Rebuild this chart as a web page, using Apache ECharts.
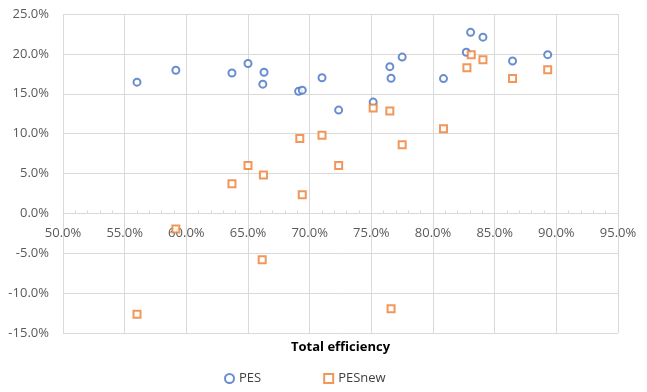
<!DOCTYPE html>
<html>
<head>
<meta charset="utf-8">
<script src="https://cdn.jsdelivr.net/npm/echarts@6/dist/echarts.min.js"></script>
<style>html,body{margin:0;padding:0;background:#fff}#c{width:647px;height:392px}</style>
</head>
<body>
<div id="c"></div>
<script>
// Total efficiency (%)
const efficiency = [56.0, 59.15, 63.7, 65.0, 66.2, 66.3, 69.1, 69.4, 71.0, 72.35, 75.15, 76.5, 76.6, 77.5, 80.85, 82.7, 83.05, 84.05, 86.45, 89.3];
const efficiencyNew = [56.0, 59.15, 63.7, 65.0, 66.15, 66.25, 69.2, 69.4, 71.0, 72.35, 75.15, 76.5, 76.6, 77.5, 80.85, 82.75, 83.1, 84.05, 86.45, 89.3];
// PES (%)
const pes = [16.45, 17.95, 17.6, 18.8, 16.2, 17.7, 15.3, 15.45, 17.0, 12.95, 13.95, 18.4, 16.95, 19.6, 16.9, 20.2, 22.7, 22.1, 19.1, 19.9];
// PESnew (%)
const pesNew = [-12.65, -1.95, 3.7, 6.0, -5.8, 4.8, 9.4, 2.35, 9.8, 6.0, 13.2, 12.85, -11.95, 8.6, 10.6, 18.25, 19.9, 19.25, 16.9, 18.0];
const seriesNames = ['PES', 'PESnew'];
const xAxisTitle = 'Total efficiency';
const yMin = -15, yMax = 25;

const chart = echarts.init(document.getElementById('c'));
const fnt = 'Open Sans, Liberation Sans, sans-serif';
const gridTop = 14, gridBottom = 59, H = 392;
const plotH = H - gridTop - gridBottom;
// move the x axis up to the y = 0 line
const zeroOffset = -plotH * (0 - yMin) / (yMax - yMin);
chart.setOption({
  animation: false,
  grid: {left: 63, right: 29, top: gridTop, bottom: gridBottom, containLabel: false, outerBoundsMode: 'none'},
  legend: {
    left: 219, top: 367, itemWidth: 9, itemHeight: 9, itemGap: 62,
    textStyle: {fontFamily: fnt, fontSize: 13, color: '#404040'},
    data: seriesNames
  },
  xAxis: {
    type: 'value', min: 50, max: 95, interval: 5,
    offset: zeroOffset,
    name: xAxisTitle, nameLocation: 'middle', nameGap: 127,
    nameTextStyle: {fontFamily: fnt, fontSize: 13, fontWeight: 'bold', color: '#000'},
    axisLine: {onZero: false, lineStyle: {color: '#d9d9d9'}},
    axisTick: {show: true, inside: true, length: 3, lineStyle: {color: '#d9d9d9'}},
    minorTick: {show: true, splitNumber: 5, length: 3, lineStyle: {color: '#d9d9d9'}},
    splitLine: {show: true, lineStyle: {color: '#d9d9d9'}},
    axisLabel: {fontFamily: fnt, fontSize: 13, color: '#595959', margin: 13,
      formatter: v => v.toFixed(1) + '%'}
  },
  yAxis: {
    type: 'value', min: yMin, max: yMax, interval: 5,
    axisLine: {show: false}, axisTick: {show: false},
    splitLine: {show: true, lineStyle: {color: '#d9d9d9'}},
    axisLabel: {fontFamily: fnt, fontSize: 13, color: '#595959', margin: 14,
      formatter: v => v.toFixed(1) + '%'}
  },
  series: [
    {name: seriesNames[0], type: 'scatter', symbol: 'circle', symbolSize: 7,
      itemStyle: {color: '#fff', borderColor: '#4472C4', borderWidth: 2},
      data: efficiency.map((x, i) => [x, pes[i]])},
    {name: seriesNames[1], type: 'scatter', symbol: 'rect', symbolSize: 7,
      itemStyle: {color: '#fff', borderColor: '#ED7D31', borderWidth: 2},
      data: efficiencyNew.map((x, i) => [x, pesNew[i]])}
  ]
});
</script>
</body>
</html>
